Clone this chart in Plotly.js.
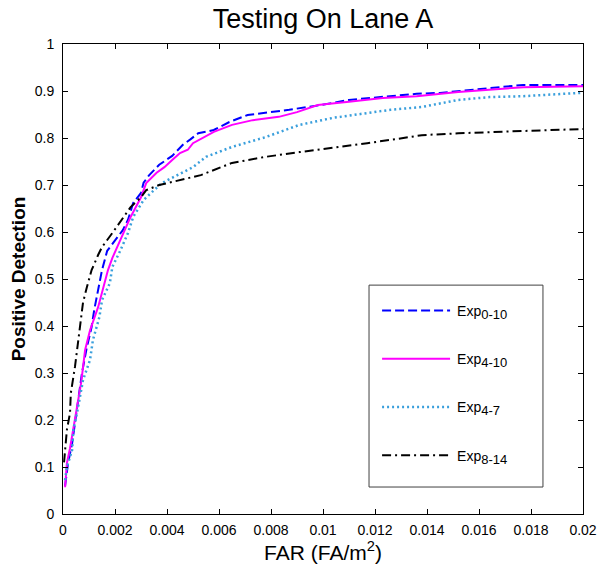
<!DOCTYPE html>
<html>
<head>
<meta charset="utf-8">
<script src="https://cdn.plot.ly/plotly-3.0.1.min.js"></script>
<style>html,body{margin:0;padding:0;background:#fff;}#chart{width:600px;height:571px;}</style>
</head>
<body>
<div id="chart"></div>
<script>
// Exp0-10 (blue dashed)
const exp0_10_x = [0.00008,0.0002,0.00035,0.0005,0.00073,0.0009,0.0011,0.0012,0.0014,0.0015,0.0017,0.0021,0.0023,0.0025,0.0027,0.003,0.0031,0.0033,0.0037,0.0042,0.0046,0.0049,0.0052,0.0058,0.0064,0.0071,0.008,0.0087,0.0094,0.0099,0.011,0.0123,0.0136,0.0145,0.0152,0.0177,0.02];
const exp0_10_y = [0.06,0.11,0.15,0.21,0.3,0.35,0.398,0.434,0.491,0.519,0.56,0.59,0.604,0.626,0.662,0.683,0.705,0.72,0.743,0.762,0.785,0.797,0.81,0.817,0.834,0.849,0.855,0.86,0.866,0.87,0.881,0.887,0.894,0.896,0.9,0.913,0.913];
// Exp4-10 (magenta solid)
const exp4_10_x = [0.00008,0.00015,0.00027,0.00046,0.00058,0.0007,0.00085,0.00104,0.00135,0.0015,0.00173,0.0019,0.0022,0.0026,0.003,0.0032,0.0036,0.0039,0.0042,0.0045,0.0048,0.005,0.0058,0.0065,0.0073,0.0083,0.009,0.0098,0.011,0.0123,0.0136,0.0145,0.0152,0.0177,0.02];
const exp4_10_y = [0.057,0.108,0.14,0.2,0.243,0.28,0.349,0.391,0.44,0.47,0.519,0.545,0.583,0.632,0.674,0.704,0.726,0.738,0.753,0.768,0.775,0.789,0.813,0.828,0.838,0.845,0.855,0.87,0.877,0.885,0.889,0.894,0.898,0.908,0.91];
// Exp4-7 (light blue dotted)
const exp4_7_x = [0.00008,0.00015,0.00035,0.0004,0.00054,0.00065,0.00077,0.00104,0.00115,0.0014,0.0015,0.0018,0.0019,0.0022,0.0025,0.0027,0.0031,0.0035,0.0038,0.0044,0.005,0.0055,0.0065,0.0078,0.0091,0.0104,0.0117,0.0126,0.0138,0.0152,0.0164,0.0177,0.0199];
const exp4_7_y = [0.072,0.1,0.136,0.18,0.215,0.249,0.285,0.328,0.37,0.419,0.455,0.491,0.526,0.56,0.598,0.632,0.668,0.689,0.704,0.721,0.738,0.76,0.781,0.802,0.828,0.843,0.853,0.86,0.866,0.881,0.887,0.889,0.896];
// Exp8-14 (black dash-dot)
const exp8_14_x = [0.00004,0.00008,0.00015,0.00027,0.0003,0.00046,0.00054,0.00065,0.00077,0.00092,0.0011,0.00135,0.0015,0.0019,0.0022,0.0026,0.003,0.0032,0.0037,0.0045,0.0053,0.0065,0.0078,0.0091,0.0104,0.0117,0.0126,0.0138,0.0152,0.0164,0.0177,0.02];
const exp8_14_y = [0.11,0.136,0.179,0.215,0.257,0.313,0.349,0.398,0.45,0.483,0.519,0.551,0.568,0.598,0.621,0.653,0.674,0.689,0.7,0.711,0.721,0.747,0.76,0.77,0.779,0.789,0.796,0.806,0.81,0.813,0.815,0.819];

const seriesNames = ['Exp<sub><span style="font-size:13px">0-10</span></sub>','Exp<sub><span style="font-size:13px">4-10</span></sub>','Exp<sub><span style="font-size:13px">4-7</span></sub>','Exp<sub><span style="font-size:13px">8-14</span></sub>'];
const xTickVals = [0,0.002,0.004,0.006,0.008,0.01,0.012,0.014,0.016,0.018,0.02];
const xTickText = ['0','0.002','0.004','0.006','0.008','0.01','0.012','0.014','0.016','0.018','0.02'];
const yTickVals = [0,0.1,0.2,0.3,0.4,0.5,0.6,0.7,0.8,0.9,1];
const yTickText = ['0','0.1','0.2','0.3','0.4','0.5','0.6','0.7','0.8','0.9','1'];

const FONT = 'Liberation Sans, Arial, sans-serif';

const traces = [
  {x: exp0_10_x, y: exp0_10_y, name: seriesNames[0], legendgroup:'a', mode:'lines', line:{color:'#0000ff', width:2, dash:'9px,4px'}},
  {x: exp4_10_x, y: exp4_10_y, name: seriesNames[1], legendgroup:'b', mode:'lines', line:{color:'#ff00ff', width:2}},
  {x: exp4_7_x, y: exp4_7_y, name: seriesNames[2], legendgroup:'c', mode:'lines', line:{color:'#3a9fdc', width:2.5, dash:'2px,3px'}},
  {x: exp8_14_x, y: exp8_14_y, name: seriesNames[3], legendgroup:'d', mode:'lines', line:{color:'#000000', width:2, dash:'9px,4px,2px,4px'}}
];

const axisCommon = {
  showline:true, linecolor:'#000', linewidth:1, mirror:'ticks',
  ticks:'inside', ticklen:5, tickcolor:'#000', tickwidth:1,
  showgrid:false, zeroline:false,
  tickfont:{family:FONT, size:14, color:'#000'}
};

const layout = {
  width:600, height:571,
  margin:{l:63, r:17, t:44, b:57},
  paper_bgcolor:'#fff', plot_bgcolor:'#fff',
  font:{family:FONT, color:'#000'},
  title:{text:'Testing On Lane A', font:{family:FONT, size:27, color:'#000'}, xref:'paper', x:0.5, xanchor:'center', yref:'container', y:0.968, yanchor:'middle'},
  xaxis: Object.assign({}, axisCommon, {
    range:[0,0.02], tickmode:'array', tickvals:xTickVals, ticktext:xTickText,
    ticklabelstandoff:3,
    title:{text:'FAR (FA/m<sup>2</sup>)', font:{family:FONT, size:21, color:'#000'}, standoff:6}
  }),
  yaxis: Object.assign({}, axisCommon, {
    range:[0,1], tickmode:'array', tickvals:yTickVals, ticktext:yTickText,
    ticklabelstandoff:5,
    title:{text:'<b>Positive Detection</b>', font:{family:FONT, size:19, color:'#000'}, standoff:4}
  }),
  showlegend:true,
  legend:{
    x:0.604, xanchor:'left', y:0.466, yanchor:'top',
    bgcolor:'rgba(0,0,0,0)', borderwidth:0,
    itemwidth:70, tracegroupgap:27,
    font:{family:FONT, size:14, color:'#000'}
  },
  shapes:[
    {type:'rect', xref:'paper', yref:'paper', x0:0.5885, x1:0.923, y0:0.0574, y1:0.487,
     line:{color:'#404040', width:1}, fillcolor:'#fff', layer:'above'}
  ]
};

Plotly.newPlot('chart', traces, layout, {displayModeBar:false, staticPlot:true}).then(function(gd){
  var paths = gd.querySelectorAll('.legend .legendlines path');
  paths.forEach(function(p){ p.setAttribute('d','M5,0h68'); });
});
</script>
</body>
</html>
